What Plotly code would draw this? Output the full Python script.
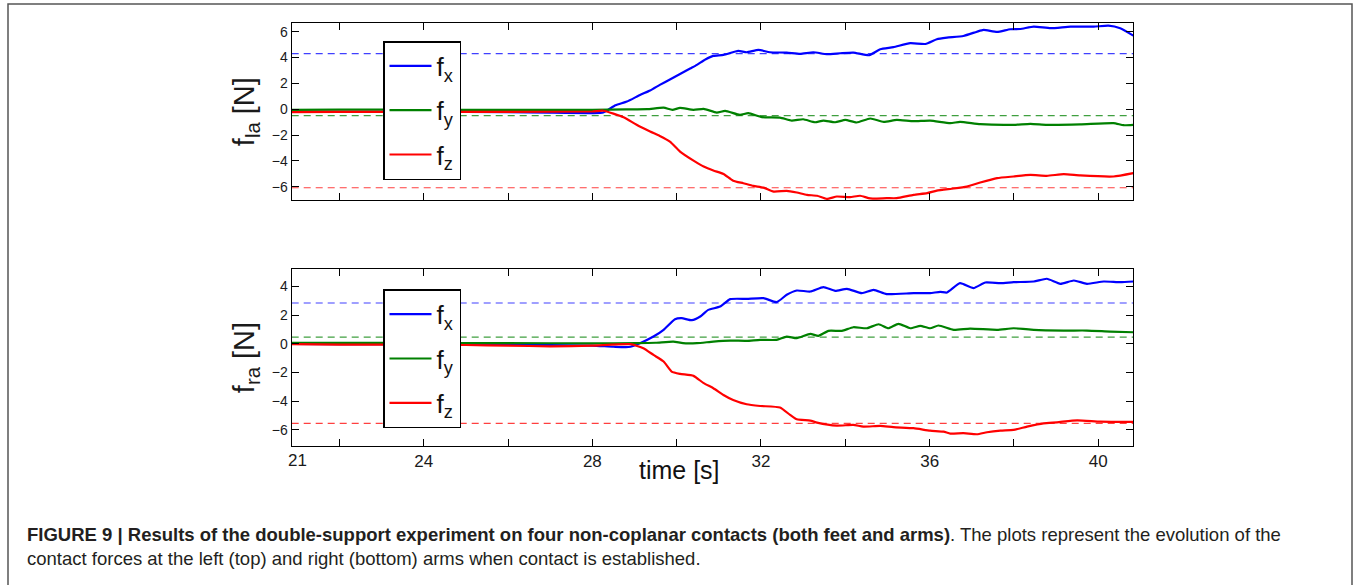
import plotly.graph_objects as go

W, H = 1356, 585

# ---------------- data ----------------
# top panel : left arm forces f_la
t_la_x = [20.87, 22, 24, 26, 27, 28, 28.26, 28.55, 28.82, 29.13, 29.37, 29.6, 29.84, 30.08, 30.32,
          30.48, 30.68, 30.87, 31.11, 31.46, 31.66, 31.94, 32.21, 32.61, 32.93, 33.24, 33.56, 33.88,
          34.19, 34.57, 34.83, 35.14, 35.54, 35.9, 36.17, 36.41, 36.8, 37.12, 37.28, 37.6, 37.91,
          38.15, 38.47, 38.87, 39.34, 39.89, 40.24, 40.52, 40.83]
f_la_x = [-0.2, -0.2, -0.2, -0.22, -0.27, -0.3, -0.25, 0.3, 0.59, 1.1, 1.45, 1.88, 2.3, 2.72, 3.15,
          3.43, 3.85, 4.13, 4.2, 4.51, 4.41, 4.59, 4.41, 4.38, 4.28, 4.41, 4.26, 4.33,
          4.38, 4.18, 4.64, 4.8, 5.11, 5.05, 5.42, 5.54, 5.67, 6.0, 6.14, 5.98, 6.19,
          6.21, 6.39, 6.27, 6.39, 6.39, 6.47, 6.27, 5.7]

t_la_y = [20.87, 22, 24, 26, 28, 28.8, 29.3, 29.69, 29.9, 30.08, 30.4, 30.64, 30.95, 31.15, 31.5,
          31.7, 32.02, 32.45, 32.73, 33.0, 33.28, 33.48, 33.76, 34.0, 34.27, 34.59, 34.91, 35.22,
          35.62, 36.01, 36.49, 36.72, 37.2, 37.99, 38.39, 38.78, 39.57, 40.36, 40.6, 40.83]
f_la_y = [-0.05, -0.03, -0.05, -0.05, -0.05, -0.02, 0.0, 0.12, -0.05, 0.1, -0.05, 0.03, -0.26, -0.13,
          -0.44, -0.31, -0.62, -0.65, -0.88, -0.78, -1.01, -0.88, -1.01, -0.83, -1.03, -0.72, -0.98,
          -0.83, -0.93, -0.88, -1.08, -0.98, -1.16, -1.21, -1.13, -1.21, -1.18, -1.08, -1.24, -1.21]

t_la_z = [20.87, 22, 24, 26, 28, 28.26, 28.74, 29.05, 29.37, 29.6, 29.84, 30.08, 30.4, 30.64, 30.87,
          31.11, 31.34, 31.58, 31.82, 32.06, 32.3, 32.61, 32.85, 33.09, 33.33, 33.56, 33.8, 34.11,
          34.35, 34.59, 34.98, 35.22, 35.62, 35.94, 36.17, 36.57, 36.88, 37.2, 37.6, 37.99, 38.39,
          38.78, 39.18, 39.57, 40.36, 40.83]
f_la_z = [-0.22, -0.2, -0.22, -0.2, -0.18, -0.12, -0.62, -1.21, -1.73, -2.07, -2.51, -3.28, -3.98,
          -4.44, -4.75, -5.01, -5.53, -5.73, -5.94, -6.07, -6.38, -6.32, -6.45, -6.63, -6.7, -6.94,
          -6.76, -6.81, -6.7, -6.91, -6.89, -6.89, -6.63, -6.5, -6.3, -6.14, -5.99, -5.68, -5.34,
          -5.21, -5.09, -5.16, -5.03, -5.13, -5.21, -4.95]

# bottom panel : right arm forces f_ra
t_ra_x = [20.87, 22, 24, 26, 27, 28, 28.5, 28.86, 29.13, 29.45, 29.69, 29.96, 30.12, 30.36, 30.56,
          30.75, 31.03, 31.27, 31.66, 32.06, 32.37, 32.61, 32.85, 33.17, 33.48, 33.76, 34.04, 34.39,
          34.67, 34.98, 35.62, 36.01, 36.25, 36.41, 36.72, 37.04, 37.32, 37.68, 37.99, 38.47, 38.78,
          39.1, 39.42, 39.73, 40.13, 40.52, 40.83]
f_ra_x = [0.0, -0.02, -0.03, -0.05, -0.08, -0.12, -0.2, -0.22, 0.05, 0.51, 0.98, 1.72, 1.79, 1.65,
          1.91, 2.37, 2.6, 3.12, 3.14, 3.19, 2.91, 3.42, 3.72, 3.65, 3.96, 3.7, 3.84, 3.54,
          3.77, 3.47, 3.54, 3.54, 3.63, 3.58, 4.23, 3.89, 4.28, 4.23, 4.3, 4.35, 4.54,
          4.19, 4.42, 4.19, 4.35, 4.3, 4.35]

t_ra_y = [20.87, 22, 24, 26, 28, 29.05, 29.5, 29.92, 30.15, 30.48, 30.87, 31.27, 31.66, 31.98, 32.37,
          32.61, 32.85, 33.17, 33.36, 33.6, 33.92, 34.19, 34.51, 34.79, 35.02, 35.26, 35.54, 35.78,
          36.01, 36.21, 36.57, 36.96, 37.6, 37.99, 38.47, 39.18, 39.73, 40.28, 40.83]
f_ra_y = [0.08, 0.07, 0.06, 0.05, 0.04, 0.05, 0.08, 0.16, 0.05, 0.05, 0.16, 0.23, 0.21, 0.28, 0.28,
          0.51, 0.4, 0.7, 0.56, 0.91, 0.91, 1.16, 1.09, 1.37, 1.09, 1.4, 1.09, 1.26,
          1.09, 1.28, 0.98, 1.07, 0.98, 1.09, 0.98, 0.93, 0.93, 0.86, 0.81]

t_ra_z = [20.87, 22, 24, 25, 26, 27, 28, 28.9, 29.21, 29.45, 29.69, 29.88, 30.08, 30.4, 30.64, 30.87,
          31.11, 31.34, 31.66, 31.98, 32.45, 32.69, 32.85, 33.17, 33.33, 33.8, 34.19, 34.43, 34.83,
          35.14, 35.62, 36.01, 36.33, 36.49, 36.8, 37.12, 37.36, 37.68, 37.99, 38.31, 38.7, 39.02,
          39.5, 40.05, 40.83]
f_ra_z = [-0.02, -0.05, -0.05, -0.08, -0.12, -0.17, -0.12, -0.02, -0.3, -0.77, -1.23, -1.93, -2.09,
          -2.23, -2.74, -3.09, -3.56, -3.91, -4.21, -4.33, -4.44, -4.95, -5.26, -5.35, -5.49, -5.7,
          -5.65, -5.77, -5.72, -5.81, -5.88, -6.05, -6.12, -6.26, -6.23, -6.3, -6.16, -6.05, -6.0,
          -5.77, -5.54, -5.47, -5.33, -5.42, -5.44]

# dashed reference levels [x, y, z]
ref_la = [4.3, -0.5, -6.08]
ref_ra = [2.85, 0.47, -5.55]

t_range = [20.87, 40.83]
x_tickvals = [22, 24, 26, 28, 30, 32, 34, 36, 38, 40]
x_ticktext = ["", "24", "", "28", "", "32", "", "36", "", "40"]
y_ticks_la = [-6, -4, -2, 0, 2, 4, 6]
y_ticks_ra = [-6, -4, -2, 0, 2, 4]
legend_names = ["f<sub>x</sub>", "f<sub>y</sub>", "f<sub>z</sub>"]
colors = ["#0000ff", "#008000", "#ff0000"]

# ---------------- figure ----------------
FONT = "Liberation Sans, Arial, sans-serif"
fig = go.Figure()

top_series = [(t_la_x, f_la_x), (t_la_y, f_la_y), (t_la_z, f_la_z)]
bot_series = [(t_ra_x, f_ra_x), (t_ra_y, f_ra_y), (t_ra_z, f_ra_z)]

for refs, xa, ya in [(ref_la, "x", "y"), (ref_ra, "x2", "y2")]:
    for r, c in zip(refs, colors):
        fig.add_trace(go.Scatter(x=t_range, y=[r, r], mode="lines", xaxis=xa, yaxis=ya,
                                 line=dict(color=c, width=1.2, dash="7px,5px"), opacity=0.75,
                                 showlegend=False, hoverinfo="skip"))

for i, ((tt, vv), name, c) in enumerate(zip(top_series, legend_names, colors)):
    fig.add_trace(go.Scatter(x=tt, y=vv, mode="lines", name=name, xaxis="x", yaxis="y",
                             line=dict(color=c, width=2.2, shape="spline", smoothing=0.5),
                             legend="legend", legendgroup="a%d" % i))
for i, ((tt, vv), name, c) in enumerate(zip(bot_series, legend_names, colors)):
    fig.add_trace(go.Scatter(x=tt, y=vv, mode="lines", name=name, xaxis="x2", yaxis="y2",
                             line=dict(color=c, width=2.2, shape="spline", smoothing=0.5),
                             legend="legend2", legendgroup="b%d" % i))

px_x0, px_x1 = 291.7, 1133.3
xdom = [px_x0 / W, px_x1 / W]
top_dom = [1 - 200 / H, 1 - 23.3 / H]
bot_dom = [1 - 445.7 / H, 1 - 269.3 / H]

axis_common = dict(showline=True, linecolor="black", linewidth=1.3, mirror="allticks",
                   ticks="inside", ticklen=7, tickwidth=1, tickcolor="black",
                   showgrid=False, zeroline=False)

legend_common = dict(xanchor="left", yanchor="top", bgcolor="white", bordercolor="black",
                     borderwidth=1.5, font=dict(size=26, family=FONT, color="#111"),
                     tracegroupgap=7.5, itemwidth=42)

fig.update_layout(
    width=W, height=H,
    margin=dict(l=0, r=0, t=0, b=0),
    paper_bgcolor="white", plot_bgcolor="white",
    font=dict(family=FONT, color="#1a1a1a"),
    xaxis=dict(domain=xdom, range=t_range, anchor="y", tickvals=x_tickvals,
               showticklabels=False, **axis_common),
    yaxis=dict(domain=top_dom, range=[-7.03, 6.65], anchor="x", tickvals=y_ticks_la,
               tickfont=dict(size=14), automargin=False,
               title=dict(text="f<sub>la</sub> [N]", font=dict(size=29), standoff=8),
               **axis_common),
    xaxis2=dict(domain=xdom, range=t_range, anchor="y2", tickvals=x_tickvals,
                ticktext=x_ticktext, tickfont=dict(size=17), automargin=False, **axis_common),
    yaxis2=dict(domain=bot_dom, range=[-7.1, 5.2], anchor="x2", tickvals=y_ticks_ra,
                tickfont=dict(size=14), automargin=False,
                title=dict(text="f<sub>ra</sub> [N]", font=dict(size=29), standoff=8),
                **axis_common),
    legend=dict(x=383 / W, y=1 - 41 / H, **legend_common),
    legend2=dict(x=383 / W, y=1 - 289.3 / H, **legend_common),
    showlegend=True,
)

# outer frame of the figure panel
fig.add_shape(type="rect", xref="paper", yref="paper", x0=8 / W, x1=1352 / W,
              y0=-0.05, y1=1 - 4 / H, line=dict(color="#555", width=1.5), layer="below")

# "21" label at the left end of the time axis and the time axis title
fig.add_annotation(x=21, xref="x2", y=1 - 460 / H, yref="paper", text="21", showarrow=False,
                   font=dict(size=17, family=FONT, color="#1a1a1a"), yanchor="middle")
fig.add_annotation(x=679 / W, xref="paper", y=1 - 470 / H, yref="paper", text="time [s]",
                   showarrow=False, font=dict(size=25, family=FONT, color="#111"),
                   yanchor="middle")

# caption
fig.add_annotation(x=25 / W, xref="paper", y=1 - 534 / H, yref="paper", xanchor="left",
                   yanchor="middle", showarrow=False, align="left",
                   text="<b>FIGURE 9 | Results of the double-support experiment on four non-coplanar "
                        "contacts (both feet and arms)</b>. The plots represent the evolution of the",
                   font=dict(size=18.5, family=FONT, color="#231f20"))
fig.add_annotation(x=25 / W, xref="paper", y=1 - 558 / H, yref="paper", xanchor="left",
                   yanchor="middle", showarrow=False, align="left",
                   text="contact forces at the left (top) and right (bottom) arms when contact is established.",
                   font=dict(size=18.5, family=FONT, color="#231f20"))

fig.write_html("out.html", config={"displayModeBar": False},
               post_script="document.body.style.margin='0';")
